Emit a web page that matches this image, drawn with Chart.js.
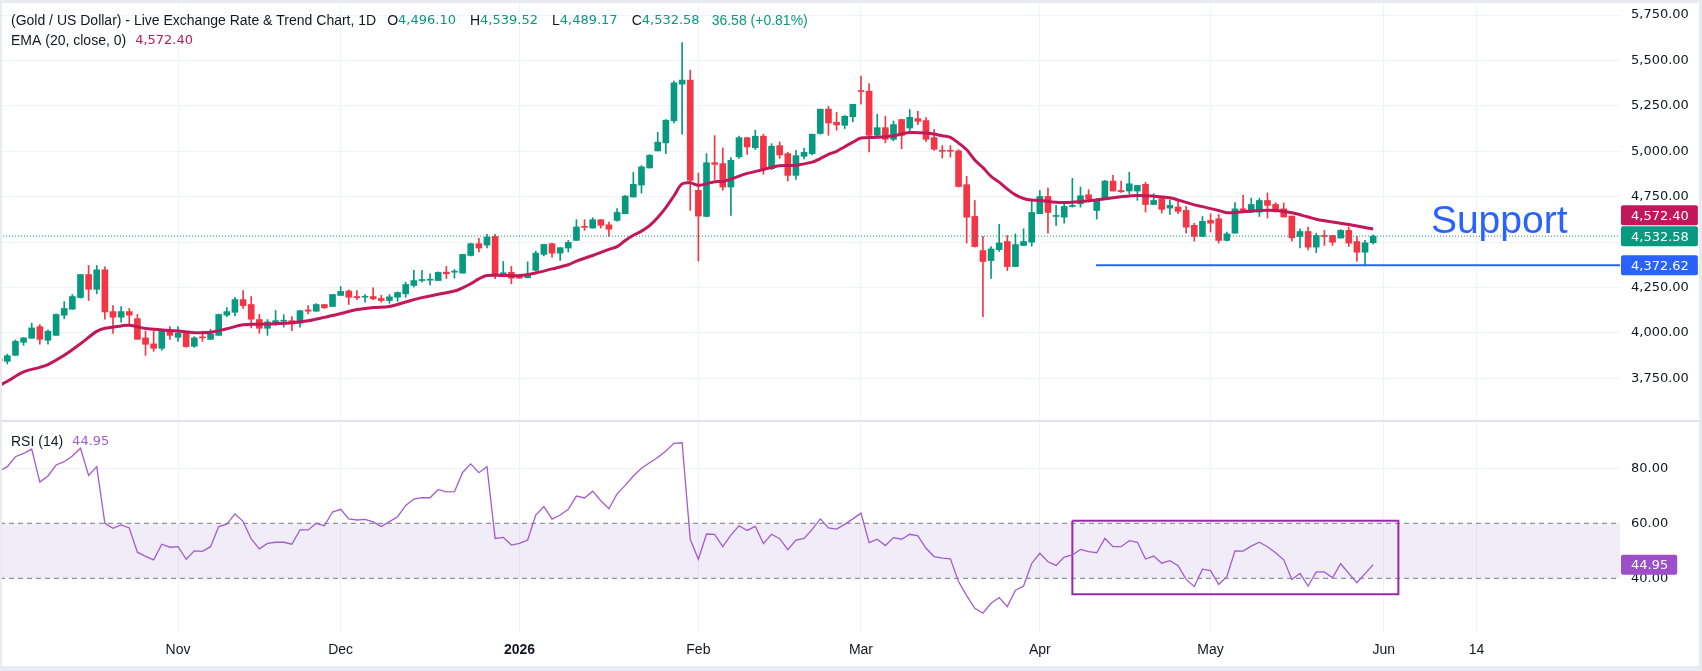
<!DOCTYPE html>
<html>
<head>
<meta charset="utf-8">
<script src="https://cdn.jsdelivr.net/npm/chart.js@4.4.1/dist/chart.umd.min.js"></script>
<style>
  html, body { margin: 0; padding: 0; background: #fff; }
  #wrap { position: relative; width: 1702px; height: 671px; overflow: hidden; background: #fff; }
  #priceChart { position: absolute; left: 0; top: 0; }
  #rsiChart { position: absolute; left: 0; top: 422px; }
  #sep { position: absolute; left: 0; top: 420px; width: 1702px; height: 2px; background: #e0e3eb; }
  #frame { position: absolute; left: 0; top: 0; width: 1702px; height: 671px; box-sizing: border-box;
           border: solid #e9ebf0; border-width: 3px 3px 5px 2px; pointer-events: none; }
</style>
</head>
<body>
<div id="wrap">
  <canvas id="priceChart" width="1702" height="420"></canvas>
  <div id="sep"></div>
  <canvas id="rsiChart" width="1702" height="249"></canvas>
  <div id="frame"></div>
</div>
<script>
// daily candles, index 0 = first (cut-off) bar on the left, last = 29 May
const opens = [
  3856,3843,3876,3948,3970,4034,3959,3986,4097,4130,
  4194,4321,4240,4347,4117,4086,4117,4078,3972,3939,
  3915,4012,3975,3999,3926,3975,3964,3986,4097,4113,
  4183,4156,4073,4025,4053,4064,4067,4053,4126,4119,
  4156,4145,4206,4230,4200,4196,4200,4189,4178,4196,
  4215,4261,4288,4290,4288,4334,4334,4329,4426,4491,
  4483,4531,4318,4333,4309,4303,4344,4432,4491,4439,
  4467,4509,4583,4577,4623,4595,4619,4656,4748,4814,
  4908,5002,5046,5168,5370,5392,4785,4641,4937,4932,
  4803,4969,5075,5020,5083,4904,5031,4987,4867,4972,
  4987,5098,5232,5160,5143,5190,5333,5331,5088,5130,
  5066,5175,5128,5180,5169,5075,5003,5003,5002,4816,
  4641,4453,4398,4458,4503,4365,4481,4499,4656,4751,
  4641,4637,4696,4711,4760,4674,4733,4836,4784,4781,
  4781,4818,4707,4739,4687,4693,4674,4592,4531,4619,
  4628,4509,4549,4683,4665,4665,4729,4707,4683,4643,
  4531,4558,4472,4536,4536,4522,4564,4503,4444,4496.10
];
const highs = [
  3860,3883,3961,3974,4053,4045,4016,4104,4172,4211,
  4321,4371,4371,4364,4150,4145,4134,4101,4009,4009,
  4021,4034,4034,4007,3979,4009,4018,4104,4139,4196,
  4233,4200,4101,4073,4123,4100,4089,4123,4150,4161,
  4156,4211,4255,4237,4233,4211,4248,4207,4211,4226,
  4279,4344,4344,4325,4336,4366,4349,4432,4494,4520,
  4542,4542,4393,4366,4310,4391,4450,4487,4494,4469,
  4509,4623,4623,4634,4623,4610,4684,4757,4884,4921,
  4982,5105,5175,5386,5598,5447,4880,4987,5086,5018,
  4965,5083,5075,5116,5094,5042,5051,4994,5005,5016,
  5094,5232,5247,5215,5197,5259,5414,5373,5204,5193,
  5167,5175,5230,5220,5186,5119,5031,5031,5009,4862,
  4729,4531,4475,4597,4536,4545,4573,4729,4784,4797,
  4702,4711,4851,4803,4788,4740,4840,4867,4836,4884,
  4812,4829,4766,4752,4733,4726,4696,4604,4641,4656,
  4652,4555,4718,4757,4742,4742,4770,4717,4715,4643,
  4573,4582,4549,4564,4536,4569,4582,4531,4509,4539.52
];
const lows = [
  3840,3828,3876,3931,3970,3937,3937,3986,4078,4130,
  4191,4178,4215,4075,3997,4058,4040,3964,3876,3898,
  3904,3964,3953,3920,3920,3953,3964,3986,4089,4093,
  4135,4027,3997,3986,4042,4031,4012,4031,4104,4119,
  4134,4145,4206,4156,4182,4169,4182,4169,4163,4173,
  4196,4252,4279,4264,4288,4299,4301,4329,4423,4445,
  4467,4298,4318,4270,4300,4303,4340,4423,4417,4399,
  4445,4509,4564,4577,4577,4531,4615,4656,4748,4770,
  4908,5002,4987,5156,5094,4674,4395,4638,4845,4785,
  4647,4961,4983,5009,4873,4899,4961,4836,4845,4958,
  4980,5094,5088,5116,5125,5162,5259,4996,5079,5046,
  5057,5014,5110,5147,5053,5005,4963,4968,4803,4494,
  4472,4089,4299,4448,4343,4365,4481,4477,4656,4549,
  4591,4604,4692,4692,4720,4626,4733,4781,4773,4766,
  4730,4665,4707,4660,4652,4656,4549,4505,4531,4555,
  4494,4505,4549,4674,4665,4641,4632,4665,4638,4505,
  4468,4457,4442,4481,4481,4522,4476,4395,4372.62,4489.17
];
const closes = [
  3847,3874,3953,3972,4027,3964,4009,4101,4134,4200,
  4321,4240,4347,4115,4086,4117,4097,3964,3937,3915,
  4016,3986,3999,3924,3972,3972,3994,4101,4117,4183,
  4150,4075,4025,4060,4067,4068,4049,4122,4119,4156,
  4138,4211,4228,4196,4193,4198,4187,4178,4198,4222,
  4266,4288,4292,4292,4333,4325,4336,4432,4491,4467,
  4528,4316,4331,4301,4301,4321,4439,4487,4439,4469,
  4498,4583,4581,4623,4592,4571,4663,4753,4818,4914,
  4978,5050,5171,5377,5392,4840,4643,4937,4928,4803,
  4950,5075,5024,5083,4899,5028,4980,4867,4976,4994,
  5094,5232,5156,5145,5193,5259,5329,5088,5130,5066,
  5147,5088,5187,5165,5066,5011,5000,5000,4806,4637,
  4475,4393,4462,4495,4365,4486,4503,4663,4751,4663,
  4643,4696,4698,4755,4737,4733,4836,4781,4777,4821,
  4812,4707,4729,4680,4702,4669,4582,4531,4614,4604,
  4509,4545,4683,4674,4707,4729,4702,4669,4638,4523,
  4558,4472,4536,4531,4499,4564,4494,4444,4496.00,4532.58
];

// EMA(20) at these bar indexes
const emaIdx = [
  0,1,3,5,6,8,10,12,13,15,16,18,20,22,24,26,28,30,32,34,36,38,40,42,44,46,48,50,52,54,
  56,57,58,59,60,62,64,66,68,70,71,73,75,76,77,78,79,80,81,82,83,84,85,86,87,88,89,90,92,94,
  96,98,100,101,102,103,104,105,106,108,110,112,114,116,117,118,119,120,121,122,123,124,125,126,127,128,130,132,134,136,
  138,140,142,144,145,147,148,150,151,153,155,157,159,161,162,164,166,168,169
];
const emaValues = [
  3709,3733,3785,3810,3825,3876,3940,4008,4025,4038,4042,4024,4016,4010,4001,4003,4022,4044,4047,4050,
  4055,4066,4085,4106,4128,4139,4145,4170,4194,4212,4230,4248,4270,4297,4316,4316,4316,4330,4352,4375,
  4395,4426,4460,4475,4508,4537,4560,4590,4635,4690,4755,4820,4826,4813,4821,4832,4834,4847,4878,4899,
  4920,4923,4940,4960,4983,5000,5025,5050,5073,5077,5085,5103,5100,5086,5076,5045,5008,4952,4910,4862,
  4830,4792,4760,4740,4731,4729,4719,4719,4727,4738,4750,4757,4753,4744,4732,4705,4695,4674,4662,4667,
  4674,4674,4661,4638,4626,4610,4597,4580,4572.40
];

// RSI(14), one value per bar
const rsiValues = [
  79.0,80.6,84.2,85.4,87.0,75.0,77.2,81.2,82.4,84.5,
  87.3,77.4,80.6,60.0,58.2,59.4,58.3,49.5,48.0,46.7,
  52.4,51.3,51.5,46.9,50.0,49.8,51.5,58.8,59.7,63.4,
  60.7,54.3,50.7,52.7,53.1,53.1,52.4,57.6,57.6,60.0,
  59.1,64.1,65.1,61.6,61.2,61.4,60.5,58.8,60.6,62.4,
  66.5,68.8,69.3,69.3,72.3,71.4,71.5,78.5,81.6,78.4,
  80.6,54.5,54.9,52.1,52.7,53.9,63.0,66.1,61.5,63.0,
  65.1,69.9,69.2,71.7,68.2,65.3,70.7,73.8,77.2,80.0,
  82.0,83.9,86.3,89.1,89.3,54.2,46.9,56.1,56.0,51.5,
  55.7,59.1,57.4,58.9,52.6,56.0,54.4,50.4,53.9,54.5,
  57.8,61.6,58.3,57.9,59.6,61.6,63.7,53.0,54.2,51.9,
  54.8,54.2,56.0,55.4,50.9,47.9,47.3,47.1,38.8,33.7,
  29.1,27.3,30.9,33.0,29.7,35.7,37.2,45.4,49.1,46.0,
  44.7,47.7,48.5,50.5,49.7,49.3,54.5,51.5,51.5,53.7,
  53.1,47.0,48.1,45.5,46.4,44.6,39.6,37.0,43.3,42.8,
  37.8,40.6,50.0,49.9,51.7,53.1,51.5,49.3,46.7,39.6,
  41.8,37.2,42.3,42.3,40.2,45.3,41.8,38.4,41.7,44.95
];

const priceTicks = [3750, 4000, 4250, 4500, 4750, 5000, 5250, 5500, 5750];
const rsiTicks = [40, 60, 80];
const rsiBand = [40, 60];
const timeTickIdx = [22, 42, 64, 86, 106, 128, 149, 170.3, 181.7];
const timeTickLabels = ['Nov', 'Dec', '2026', 'Feb', 'Mar', 'Apr', 'May', 'Jun', '14'];

const supportLevel = 4372.62;
const supportStartIdx = 134.9;
const rsiBoxIdx = [132, 172.1];
const rsiBoxVal = [34.2, 60.95];

// view window
const X_MIN = 0.1, X_MAX = 199.36;
const PRICE_MIN = 3519.8, PRICE_MAX = 5833.2;
const RSI_MIN = 20.47, RSI_MAX = 96.84;

const FONT = "'Liberation Sans', Arial, sans-serif";
const NUM_FONT = "'DejaVu Sans', Verdana, sans-serif";
const UP = '#089981', DOWN = '#f23645', EMA_COLOR = '#c2185b', RSI_COLOR = '#a35bd0';
const RSI_BADGE = '#9c4fc8', BLUE = '#2962ff', GRID = '#f0f3fa', TEXT = '#131722';

Chart.defaults.font.family = FONT;
Chart.defaults.font.size = 14;
Chart.defaults.color = TEXT;

function fmt(v) {
  return v.toLocaleString('en-US', { minimumFractionDigits: 2, maximumFractionDigits: 2 });
}

const last = closes.length - 1;
const candleColors = closes.map((c, i) => c >= opens[i] ? UP : DOWN);

function badge(ctx, y, text, bg, x0) {
  ctx.font = '13px ' + NUM_FONT;
  const w = ctx.measureText(text).width + 19;
  ctx.fillStyle = bg;
  ctx.beginPath();
  if (ctx.roundRect) ctx.roundRect(x0 + 1, y - 10, w, 20, 2);
  else ctx.rect(x0 + 1, y - 10, w, 20);
  ctx.fill();
  ctx.fillStyle = '#fff';
  ctx.textAlign = 'left';
  ctx.textBaseline = 'middle';
  ctx.fillText(text, x0 + 11, y + 1);
}

// draws a row of [text, color, gapBefore, isNumber] pieces
function textRow(ctx, x, y, parts) {
  ctx.textAlign = 'left';
  ctx.textBaseline = 'middle';
  parts.forEach(p => {
    ctx.font = p[3] ? '13px ' + NUM_FONT : '14px ' + FONT;
    x += p[2] || 0;
    ctx.fillStyle = p[1];
    ctx.fillText(p[0], x, y);
    x += ctx.measureText(p[0]).width;
  });
}

const priceOverlay = {
  id: 'priceOverlay',
  afterDraw(chart) {
    const { ctx, scales: { x, y }, chartArea } = chart;
    ctx.save();
    const chg = closes[last] - closes[last - 1];
    const pct = chg / closes[last - 1] * 100;
    textRow(ctx, 11, 21, [
      ['(Gold / US Dollar) - Live Exchange Rate & Trend Chart, 1D', TEXT],
      ['O', TEXT, 11], [fmt(opens[last]), UP, 0, true],
      ['H', TEXT, 14], [fmt(highs[last]), UP, 0, true],
      ['L', TEXT, 14], [fmt(lows[last]), UP, 0, true],
      ['C', TEXT, 14], [fmt(closes[last]), UP, 0, true],
      [fmt(chg) + ' (+' + pct.toFixed(2) + '%)', UP, 12]
    ]);
    textRow(ctx, 11, 41, [
      ['EMA (20, close, 0)', TEXT],
      [fmt(emaValues[emaValues.length - 1]), EMA_COLOR, 9, true]
    ]);

    ctx.font = '39px ' + FONT;
    ctx.fillStyle = BLUE;
    ctx.textBaseline = 'alphabetic';
    ctx.fillText('Support', x.getPixelForValue(176.1), y.getPixelForValue(4550));

    const yClose = y.getPixelForValue(closes[last]);
    const yEma = Math.min(y.getPixelForValue(emaValues[emaValues.length - 1]), yClose - 21);
    badge(ctx, yEma, fmt(emaValues[emaValues.length - 1]), EMA_COLOR, chartArea.right);
    badge(ctx, yClose, fmt(closes[last]), UP, chartArea.right);
    badge(ctx, y.getPixelForValue(supportLevel), fmt(supportLevel), BLUE, chartArea.right);
    ctx.restore();
  }
};

const rsiOverlay = {
  id: 'rsiOverlay',
  afterDraw(chart) {
    const { ctx, scales: { y }, chartArea } = chart;
    ctx.save();
    const v = rsiValues[rsiValues.length - 1];
    textRow(ctx, 11, 20, [['RSI (14)', TEXT], [v.toFixed(2), RSI_COLOR, 9, true]]);
    badge(ctx, y.getPixelForValue(v), v.toFixed(2), RSI_BADGE, chartArea.right);
    ctx.restore();
  }
};

function timeAxis(showLabels, height) {
  return {
    type: 'linear', min: X_MIN, max: X_MAX, offset: false,
    afterBuildTicks: s => { s.ticks = timeTickIdx.map(v => ({ value: v })); },
    afterFit: s => { s.height = height; s.paddingLeft = 0; s.paddingRight = 0; },
    ticks: {
      display: showLabels, autoSkip: false, maxRotation: 0, padding: 10,
      callback: (v, i) => timeTickLabels[i],
      font: c => ({ family: FONT, size: 14, weight: timeTickLabels[c.index] === '2026' ? 'bold' : 'normal' })
    },
    grid: { color: GRID, drawTicks: false, offset: false },
    border: { display: false }
  };
}

function valueAxis(min, max, ticks, fmtTick, gridColor) {
  return {
    position: 'right', min: min, max: max,
    afterBuildTicks: s => { s.ticks = ticks.map(v => ({ value: v })); },
    afterFit: s => { s.width = 82; s.paddingTop = 0; s.paddingBottom = 0; },
    ticks: { padding: 11, callback: fmtTick, font: { family: NUM_FONT, size: 13 } },
    grid: { color: gridColor, drawTicks: false },
    border: { display: false }
  };
}

new Chart(document.getElementById('priceChart'), {
  type: 'bar',
  data: {
    datasets: [
      {
        type: 'line', label: 'EMA 20',
        data: emaIdx.map((i, k) => ({ x: i, y: emaValues[k] })),
        borderColor: EMA_COLOR, borderWidth: 3, pointRadius: 0, tension: 0.35
      },
      {
        type: 'line', label: 'Last',
        data: [{ x: X_MIN, y: closes[last] }, { x: X_MAX, y: closes[last] }],
        borderColor: UP, borderWidth: 1, borderDash: [1, 2], pointRadius: 0
      },
      {
        type: 'line', label: 'Support',
        data: [{ x: supportStartIdx, y: supportLevel }, { x: X_MAX, y: supportLevel }],
        borderColor: BLUE, borderWidth: 2, pointRadius: 0
      },
      {
        label: 'Body',
        data: opens.map((o, i) => ({ x: i, y: [o, closes[i]] })),
        backgroundColor: candleColors, borderWidth: 0,
        barThickness: 6, minBarLength: 1, grouped: false
      },
      {
        label: 'Wick',
        data: lows.map((l, i) => ({ x: i, y: [l, highs[i]] })),
        backgroundColor: candleColors, borderWidth: 0,
        barThickness: 1, grouped: false
      }
    ]
  },
  options: {
    responsive: false, animation: false, devicePixelRatio: 1,
    layout: { padding: 0 },
    plugins: { legend: { display: false }, tooltip: { enabled: false } },
    scales: {
      x: timeAxis(false, 0),
      y: valueAxis(PRICE_MIN, PRICE_MAX, priceTicks, v => fmt(v), GRID)
    }
  },
  plugins: [priceOverlay]
});

new Chart(document.getElementById('rsiChart'), {
  type: 'line',
  data: {
    datasets: [
      {
        label: 'RSI',
        data: rsiValues.map((v, i) => ({ x: i, y: v })),
        borderColor: RSI_COLOR, borderWidth: 1.3, pointRadius: 0, tension: 0
      },
      {
        label: 'Box',
        data: [
          { x: rsiBoxIdx[0], y: rsiBoxVal[1] }, { x: rsiBoxIdx[1], y: rsiBoxVal[1] },
          { x: rsiBoxIdx[1], y: rsiBoxVal[0] }, { x: rsiBoxIdx[0], y: rsiBoxVal[0] },
          { x: rsiBoxIdx[0], y: rsiBoxVal[1] }
        ],
        borderColor: '#9c27b0', borderWidth: 2, pointRadius: 0, tension: 0
      },
      {
        label: 'Upper',
        data: [{ x: X_MIN, y: rsiBand[1] }, { x: X_MAX, y: rsiBand[1] }],
        borderColor: '#787b86', borderWidth: 1, borderDash: [5, 4], pointRadius: 0,
        fill: '+1', backgroundColor: 'rgba(126,87,194,0.115)'
      },
      {
        label: 'Lower',
        data: [{ x: X_MIN, y: rsiBand[0] }, { x: X_MAX, y: rsiBand[0] }],
        borderColor: '#787b86', borderWidth: 1, borderDash: [5, 4], pointRadius: 0
      }
    ]
  },
  options: {
    responsive: false, animation: false, devicePixelRatio: 1,
    layout: { padding: 0 },
    plugins: { legend: { display: false }, tooltip: { enabled: false } },
    scales: {
      x: timeAxis(true, 39),
      y: valueAxis(RSI_MIN, RSI_MAX, rsiTicks, v => v.toFixed(2),
        c => (c.tick && c.tick.value === 80) ? GRID : 'rgba(0,0,0,0)')
    }
  },
  plugins: [rsiOverlay]
});
</script>
</body>
</html>
